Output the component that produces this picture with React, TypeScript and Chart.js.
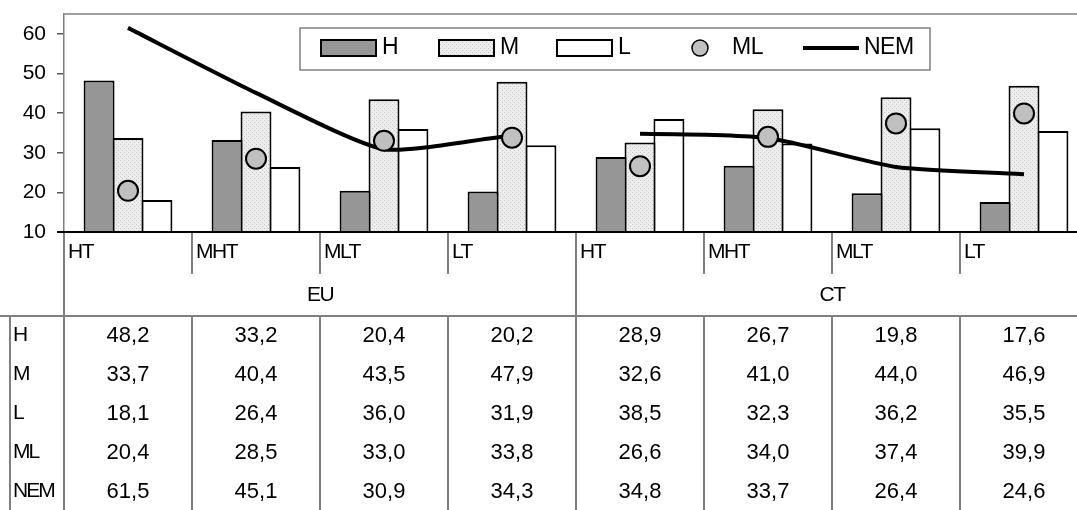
import React, { useEffect, useRef } from 'react';
import { Chart, registerables } from 'chart.js';

Chart.register(...registerables);

const GROUPS = ['EU', 'CT'];
const CATEGORIES = ['HT', 'MHT', 'MLT', 'LT', 'HT', 'MHT', 'MLT', 'LT'];
const H = [48.2, 33.2, 20.4, 20.2, 28.9, 26.7, 19.8, 17.6];
const M = [33.7, 40.4, 43.5, 47.9, 32.6, 41.0, 44.0, 46.9];
const L = [18.1, 26.4, 36.0, 31.9, 38.5, 32.3, 36.2, 35.5];
const ML = [20.4, 28.5, 33.0, 33.8, 26.6, 34.0, 37.4, 39.9];
const NEM = [61.5, 45.1, 30.9, 34.3, 34.8, 33.7, 26.4, 24.6];
const Y_TICKS = [10, 20, 30, 40, 50, 60];
const SERIES_NAMES = ['H', 'M', 'L', 'ML', 'NEM'];

const FONT = '"Liberation Sans", Arial, sans-serif';
const GRID = '#808080';

function makePattern(): CanvasPattern | string {
  const c = document.createElement('canvas');
  c.width = 4;
  c.height = 4;
  const g = c.getContext('2d');
  if (!g) return '#e6e6e6';
  g.fillStyle = '#ededed';
  g.fillRect(0, 0, 4, 4);
  g.fillStyle = '#c6c6c6';
  g.fillRect(0, 0, 1, 1);
  g.fillRect(2, 2, 1, 1);
  const p = g.createPattern(c, 'repeat');
  return p || '#e6e6e6';
}

const fmt = (v: number) => v.toFixed(1).replace('.', ',');

const tablePlugin = {
  id: 'tablePlugin',
  afterDraw(chart: any) {
    const ctx: CanvasRenderingContext2D = chart.ctx;
    const xs = chart.scales.x;
    const area = chart.chartArea;
    const n = CATEGORIES.length;
    const step = (xs.getPixelForValue(n - 1) - xs.getPixelForValue(0)) / (n - 1);
    const leftOf = (i: number) => xs.getPixelForValue(i) - step / 2;
    const rightEdge = leftOf(n);
    const catBottom = area.bottom + 42;
    const tableTop = area.bottom + 84;
    const rowH = 39;
    const bottom = chart.height;

    ctx.save();
    // plot frame
    ctx.strokeStyle = GRID;
    ctx.lineWidth = 1.5;
    ctx.beginPath();
    ctx.moveTo(area.left, area.top);
    ctx.lineTo(area.right, area.top);
    ctx.lineTo(area.right, area.bottom);
    ctx.stroke();

    // vertical separators
    ctx.lineWidth = 2;
    for (let i = 0; i <= n; i++) {
      const x = Math.round(leftOf(i));
      const full = i % 4 === 0;
      ctx.beginPath();
      ctx.moveTo(x, area.bottom);
      ctx.lineTo(x, full ? bottom : catBottom);
      if (!full) {
        ctx.moveTo(x, tableTop);
        ctx.lineTo(x, bottom);
      }
      ctx.stroke();
    }
    // table top line and left border
    ctx.beginPath();
    ctx.moveTo(0, tableTop);
    ctx.lineTo(rightEdge, tableTop);
    ctx.moveTo(10, tableTop);
    ctx.lineTo(10, bottom);
    ctx.stroke();

    // baseline
    ctx.strokeStyle = '#000';
    ctx.lineWidth = 2;
    ctx.beginPath();
    ctx.moveTo(area.left - 7, area.bottom);
    ctx.lineTo(area.right, area.bottom);
    ctx.stroke();

    // category labels
    ctx.fillStyle = '#000';
    ctx.font = `21px ${FONT}`;
    ctx.textBaseline = 'middle';
    ctx.textAlign = 'left';
    (ctx as any).letterSpacing = '-1.5px';
    CATEGORIES.forEach((c, i) => {
      ctx.fillText(c, leftOf(i) + 4, area.bottom + 20);
    });
    ctx.textAlign = 'center';
    GROUPS.forEach((g, gi) => {
      const cx = (leftOf(gi * 4) + leftOf(gi * 4 + 4)) / 2;
      ctx.fillText(g, cx, area.bottom + 63);
    });

    // table
    const rows = [H, M, L, ML, NEM];
    rows.forEach((arr, r) => {
      const y = tableTop + rowH * (r + 0.5);
      ctx.font = `21px ${FONT}`;
      (ctx as any).letterSpacing = '-2px';
      ctx.textAlign = 'left';
      ctx.fillText(SERIES_NAMES[r], 13, y);
      ctx.font = `22px ${FONT}`;
      (ctx as any).letterSpacing = '0px';
      ctx.textAlign = 'center';
      arr.forEach((v, i) => {
        ctx.fillText(fmt(v), xs.getPixelForValue(i), y);
      });
    });

    // legend
    const ds = chart.data.datasets;
    ctx.strokeStyle = GRID;
    ctx.lineWidth = 1.5;
    ctx.strokeRect(300, 28, 630, 42);
    ctx.font = `23px ${FONT}`;
    (ctx as any).letterSpacing = '-0.5px';
    ctx.textAlign = 'left';
    const ly = 48;
    const swatches = [321, 439, 557];
    for (let k = 0; k < 3; k++) {
      const sx = swatches[k];
      ctx.fillStyle = ds[k].backgroundColor;
      ctx.fillRect(sx, ly - 8, 55, 16);
      ctx.strokeStyle = '#000';
      ctx.lineWidth = 2;
      ctx.strokeRect(sx, ly - 8, 55, 16);
      ctx.fillStyle = '#000';
      ctx.fillText(ds[k].label, sx + 61, ly);
    }
    ctx.beginPath();
    ctx.arc(700, ly, 8, 0, Math.PI * 2);
    ctx.fillStyle = ds[3].pointBackgroundColor;
    ctx.fill();
    ctx.strokeStyle = '#000';
    ctx.lineWidth = 1.5;
    ctx.stroke();
    ctx.fillStyle = '#000';
    ctx.fillText(ds[3].label, 732, ly);
    ctx.beginPath();
    ctx.moveTo(803, ly);
    ctx.lineTo(859, ly);
    ctx.lineWidth = 4;
    ctx.stroke();
    ctx.fillText(ds[4].label, 864, ly);
    ctx.restore();
  },
};

export default function App() {
  const ref = useRef<HTMLCanvasElement | null>(null);
  useEffect(() => {
    if (!ref.current) return;
    const pattern = makePattern();
    const barCommon = {
      type: 'bar' as const,
      borderColor: '#000',
      borderWidth: 2,
      borderSkipped: false,
      categoryPercentage: 0.678,
      barPercentage: 1.07,
      order: 2,
    };
    const chart = new Chart(ref.current, {
      type: 'bar',
      data: {
        labels: CATEGORIES,
        datasets: [
          { ...barCommon, label: 'H', data: H, backgroundColor: '#969696' },
          { ...barCommon, label: 'M', data: M, backgroundColor: pattern as any },
          { ...barCommon, label: 'L', data: L, backgroundColor: '#ffffff' },
          {
            type: 'line',
            label: 'ML',
            data: ML,
            showLine: false,
            pointRadius: 10,
            pointBackgroundColor: '#c0c0c0',
            pointBorderColor: '#000',
            pointBorderWidth: 2,
            order: 0,
          },
          {
            type: 'line',
            label: 'NEM',
            data: NEM,
            borderColor: '#000',
            borderWidth: 4,
            pointRadius: 0,
            tension: 0.2,
            order: 1,
            segment: {
              borderColor: (c: any) => (c.p0DataIndex === 3 ? 'rgba(0,0,0,0)' : '#000'),
            },
          },
        ] as any,
      },
      options: {
        animation: false,
        responsive: false,
        devicePixelRatio: 1,
        layout: { padding: { left: 0, top: 14, right: 10, bottom: 278 } },
        plugins: { legend: { display: false }, tooltip: { enabled: false } },
        scales: {
          x: { type: 'category', display: false, offset: true },
          y: {
            type: 'linear',
            min: 10,
            max: 65,
            afterFit: (s: any) => {
              s.width = 64;
              s.paddingTop = 0;
              s.paddingBottom = 0;
            },
            afterBuildTicks: (s: any) => {
              s.ticks = Y_TICKS.map((v) => ({ value: v }));
            },
            ticks: {
              color: '#000',
              padding: 11,
              font: { family: FONT, size: 21 },
            },
            grid: {
              drawOnChartArea: false,
              drawTicks: true,
              tickLength: 7,
              color: '#555',
              lineWidth: 1.5,
            },
            border: { display: true, color: GRID, width: 1.5 },
          },
        },
      },
      plugins: [tablePlugin],
    });
    return () => chart.destroy();
  }, []);
  return (
    <div
      style={{
        position: 'fixed',
        left: 0,
        top: 0,
        width: 1077,
        height: 510,
        overflow: 'hidden',
        background: '#fff',
      }}
    >
      <canvas ref={ref} width={1100} height={510} style={{ width: 1100, height: 510, display: 'block' }} />
    </div>
  );
}
